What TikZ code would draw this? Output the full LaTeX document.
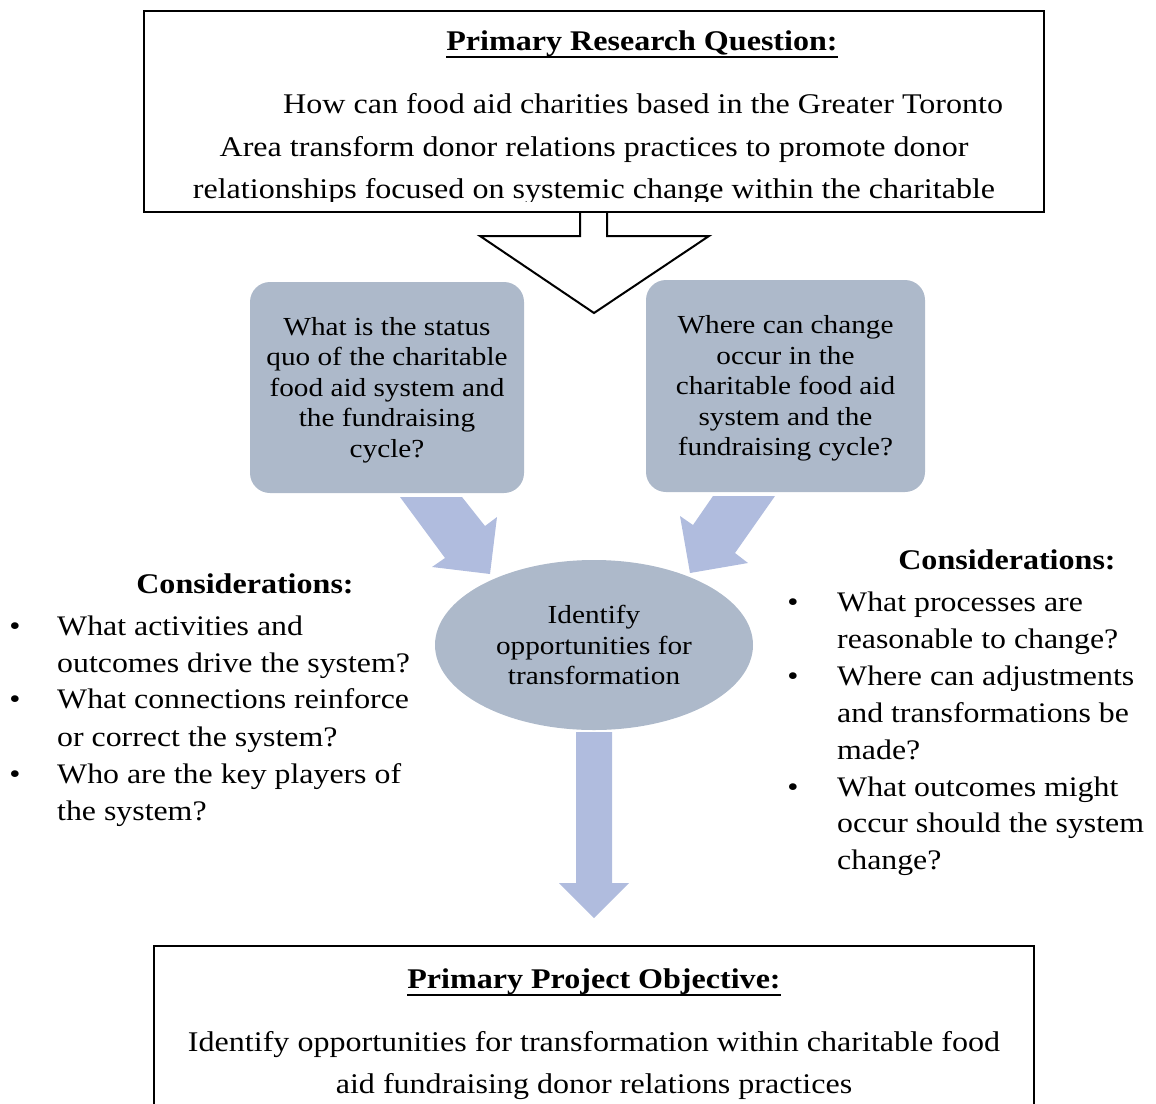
\documentclass[tikz,border=0pt]{standalone}
\usepackage{fontspec}
\setmainfont[FakeStretch=1.125]{Liberation Serif}
\usetikzlibrary{shapes.geometric}
\definecolor{boxfill}{HTML}{ADB9CA}
\definecolor{arrowfill}{HTML}{B0BCDE}
\tikzset{
  frame/.style={draw=black,line width=2pt,fill=white},
  qbox/.style={fill=boxfill,rounded corners=20pt,inner sep=0pt},
  qtxt/.style={inner sep=0pt,align=center,font=\fontsize{26}{30.5}\selectfont},
  bigtxt/.style={inner sep=0pt,anchor=base,font=\fontsize{28.5}{34}\selectfont},
  bigtxtw/.style={inner sep=0pt,anchor=base west,font=\fontsize{28.5}{34}\selectfont},
  bultxt/.style={inner sep=0pt,anchor=base west,font=\fontsize{28.3}{34}\selectfont},
  headtxt/.style={inner sep=0pt,anchor=base,font=\bfseries\fontsize{28.5}{34}\selectfont},
  uline/.style={line width=2.5pt},
  fat/.style={fill=arrowfill,draw=none},
}
\begin{document}
\begin{tikzpicture}[x=1pt,y=-1pt]
\useasboundingbox (0,0) rectangle (1156,1103);
\clip (0,0) rectangle (1156,1103);
% top box
\draw[frame] (144,11) rectangle (1044,212);
\node[headtxt] (rqtitle) at (642,50) {Primary Research Question:};
\draw[uline] ([yshift=-7pt]rqtitle.base west) -- ([yshift=-7pt]rqtitle.base east);
\node[bigtxtw] (rq1) at (283,113) {How can food aid charities based in the Greater Toronto};
\node[bigtxt] (rq2) at (594,156) {Area transform donor relations practices to promote donor};
\begin{scope}
\clip (144,11) rectangle (1044,201);
\node[bigtxt] (rq3) at (594,198) {relationships focused on systemic change within the charitable};
\end{scope}
% hollow arrow
\draw[line width=2pt,fill=white,line join=miter] (580,213) -- (580,236) -- (480,236) -- (594,313) -- (709,236) -- (607,236) -- (607,213);
% question boxes
\node[qbox,minimum width=274pt,minimum height=211pt] (q1) at (387,387.5) {};
\node[qtxt] (q1t) at (387,390) {What is the status\\quo of the charitable\\food aid system and\\the fundraising\\cycle?};
\node[qbox,minimum width=279pt,minimum height=212pt] (q2) at (785.5,386) {};
\node[qtxt] (q2t) at (785.5,388.5) {Where can change\\occur in the\\charitable food aid\\system and the\\fundraising cycle?};
% fat arrows
\path[fat] (400,497) -- (462,497) -- (485,526) -- (497,517) -- (490,574) -- (432,567) -- (445,558) -- cycle;
\path[fat] (713,496) -- (775,496) -- (735,553) -- (748,563) -- (690,573) -- (680,516) -- (693,525) -- cycle;
% ellipse
\node[ellipse,fill=boxfill,minimum width=318pt,minimum height=170pt,inner sep=0pt,align=center,font=\fontsize{26}{30.5}\selectfont] (ell) at (594,645) {Identify\\opportunities for\\transformation};
% down arrow
\path[fat] (576,732) -- (612,732) -- (612,883) -- (629,883) -- (594,918) -- (559,883) -- (576,883) -- cycle;
% considerations left
\node[headtxt] (lhead) at (245,593) {Considerations:};
\foreach \y/\t [count=\i] in {635/What activities and,672/outcomes drive the system?,708/What connections reinforce,746/or correct the system?,783/Who are the key players of,820/the system?}{
  \node[bultxt] (l\i) at (57,\y) {\t};
}
\foreach \y [count=\i] in {635,708,783}{
  \node[bultxt,anchor=base] (lb\i) at (15,\y) {•};
}
% considerations right
\node[headtxt] (rhead) at (1007,569) {Considerations:};
\foreach \y/\t [count=\i] in {611/What processes are,648/reasonable to change?,685/Where can adjustments,722/and transformations be,759/made?,796/What outcomes might,832/occur should the system,869/change?}{
  \node[bultxt] (r\i) at (837,\y) {\t};
}
\foreach \y [count=\i] in {611,685,796}{
  \node[bultxt,anchor=base] (rb\i) at (793,\y) {•};
}
% bottom box
\draw[frame] (154,946) rectangle (1034,1140);
\node[headtxt] (potitle) at (594,988) {Primary Project Objective:};
\draw[uline] ([yshift=-7pt]potitle.base west) -- ([yshift=-7pt]potitle.base east);
\node[bigtxt] (po1) at (594,1051) {Identify opportunities for transformation within charitable food};
\node[bigtxt] (po2) at (594,1093) {aid fundraising donor relations practices};
\end{tikzpicture}
\end{document}
